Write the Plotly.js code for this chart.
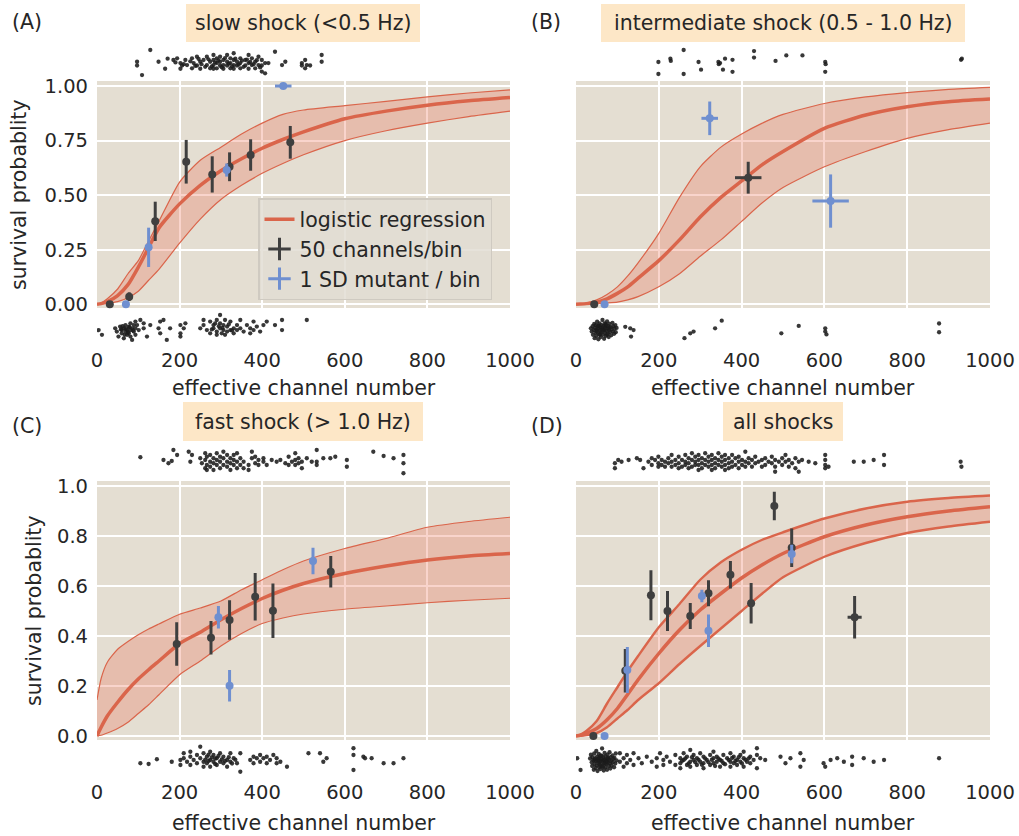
<!DOCTYPE html>
<html>
<head>
<meta charset="utf-8">
<script src="https://cdn.plot.ly/plotly-3.0.1.min.js"></script>
<style>html,body{margin:0;padding:0;background:#fff}#chart{width:1019px;height:836px}</style>
</head>
<body>
<div id="chart"></div>
<script>
// ---------- data ----------
const panelTitles = ["slow shock (<0.5 Hz)", "intermediate shock (0.5 - 1.0 Hz)", "fast shock (> 1.0 Hz)", "all shocks"];
const panelLabels = ["(A)", "(B)", "(C)", "(D)"];
const xTicks = [0, 200, 400, 600, 800, 1000];
const yTicksTop = [0, 0.25, 0.5, 0.75, 1.0];
const yTicksBottom = [0, 0.2, 0.4, 0.6, 0.8, 1.0];

// logistic regression fit
const curveX = [0, 10, 25, 50, 75, 100, 125, 150, 200, 250, 300, 350, 400, 450, 500, 600, 700, 800, 900, 1000];
const aMid = [0, 0.003, 0.012, 0.04, 0.09, 0.17, 0.26, 0.35, 0.46, 0.545, 0.612, 0.667, 0.715, 0.755, 0.79, 0.85, 0.885, 0.912, 0.932, 0.947];
const aLo  = [0, 0.001, 0.004, 0.012, 0.03, 0.06, 0.11, 0.16, 0.28, 0.39, 0.48, 0.545, 0.6, 0.645, 0.685, 0.75, 0.795, 0.83, 0.86, 0.885];
const aHi  = [0, 0.006, 0.025, 0.07, 0.14, 0.2, 0.29, 0.38, 0.56, 0.66, 0.72, 0.78, 0.83, 0.87, 0.89, 0.91, 0.93, 0.95, 0.968, 0.982];
const bMid = [0, 0.001, 0.003, 0.01, 0.025, 0.05, 0.08, 0.12, 0.2, 0.295, 0.4, 0.49, 0.565, 0.64, 0.7, 0.806, 0.867, 0.905, 0.928, 0.94];
const bLo  = [0, 0, 0.001, 0.003, 0.006, 0.01, 0.02, 0.035, 0.08, 0.14, 0.22, 0.295, 0.38, 0.465, 0.535, 0.63, 0.7, 0.76, 0.8, 0.83];
const bHi  = [0, 0.002, 0.006, 0.02, 0.045, 0.08, 0.13, 0.19, 0.325, 0.49, 0.63, 0.72, 0.78, 0.83, 0.87, 0.92, 0.95, 0.97, 0.985, 0.994];
const cMid = [0, 0.035, 0.08, 0.135, 0.185, 0.228, 0.265, 0.3, 0.37, 0.415, 0.465, 0.51, 0.55, 0.583, 0.61, 0.65, 0.68, 0.704, 0.72, 0.73];
const cLo  = [0, 0.003, 0.012, 0.03, 0.055, 0.09, 0.125, 0.165, 0.245, 0.3, 0.36, 0.41, 0.45, 0.472, 0.488, 0.507, 0.52, 0.533, 0.543, 0.551];
const cHi  = [0.144, 0.23, 0.295, 0.347, 0.378, 0.405, 0.428, 0.448, 0.487, 0.512, 0.54, 0.585, 0.625, 0.665, 0.7, 0.75, 0.79, 0.835, 0.858, 0.875];
const dMid = [0, 0.003, 0.01, 0.03, 0.065, 0.11, 0.167, 0.225, 0.33, 0.424, 0.504, 0.57, 0.632, 0.685, 0.73, 0.797, 0.844, 0.877, 0.9, 0.917];
const dLo  = [0, 0.001, 0.004, 0.012, 0.035, 0.07, 0.105, 0.144, 0.211, 0.288, 0.36, 0.43, 0.5, 0.57, 0.635, 0.717, 0.772, 0.812, 0.838, 0.857];
const dHi  = [0, 0.005, 0.02, 0.06, 0.13, 0.195, 0.26, 0.32, 0.435, 0.528, 0.625, 0.695, 0.745, 0.785, 0.815, 0.87, 0.91, 0.937, 0.952, 0.962];

// binned survival, 50 channels / bin
const aBinX = [31, 78, 141, 216, 279, 321, 372, 468];
const aBinY = [0.0, 0.035, 0.38, 0.653, 0.595, 0.63, 0.684, 0.742];
const aBinE = [0, 0.02, 0.09, 0.1, 0.083, 0.066, 0.072, 0.075];
const bBinX = [44, 416];
const bBinY = [0.0, 0.58];
const bBinE = [0, 0.073];
const bBinXE = [0, 32];
const cBinX = [193, 276, 321, 383, 426, 566];
const cBinY = [0.368, 0.393, 0.464, 0.557, 0.501, 0.657];
const cBinE = [0.087, 0.067, 0.079, 0.095, 0.109, 0.063];
const dBinX = [42, 119, 181, 221, 276, 320, 373, 423, 479, 521, 673];
const dBinY = [0.0, 0.261, 0.563, 0.5, 0.48, 0.571, 0.645, 0.531, 0.92, 0.753, 0.475];
const dBinE = [0, 0.087, 0.1, 0.08, 0.052, 0.052, 0.055, 0.081, 0.057, 0.077, 0.085];
const dBinXE = [0, 0, 0, 0, 0, 0, 0, 0, 0, 0, 17];

// 1 SD mutant / bin
const aMutX = [70, 125, 314, 451];
const aMutY = [0.0, 0.261, 0.615, 1.0];
const aMutE = [0, 0.09, 0.03, 0];
const aMutXE = [0, 0, 0, 20];
const bMutX = [69, 323, 615];
const bMutY = [0.0, 0.852, 0.473];
const bMutE = [0, 0.077, 0.122];
const bMutXE = [0, 20, 44];
const cMutX = [294, 321, 523];
const cMutY = [0.475, 0.201, 0.70];
const cMutE = [0.045, 0.063, 0.053];
const dMutX = [69, 124, 304, 320, 521];
const dMutY = [0.0, 0.264, 0.56, 0.421, 0.728];
const dMutE = [0, 0.092, 0.025, 0.065, 0.037];

// individual channels: survivors (top strip) and non-survivors (bottom strip), jittered
const aTop = [[97,1.111],[97,1.094],[109,1.05],[129,1.165],[149,1.111],[165,1.079],[171,1.125],[185,1.119],[190,1.108],[194,1.127],[202,1.105],[202,1.079],[206,1.094],[210,1.1],[214,1.119],[218,1.096],[226,1.113],[230,1.127],[230,1.081],[234,1.105],[238,1.092],[242,1.134],[242,1.094],[246,1.124],[250,1.111],[250,1.079],[253,1.1],[258,1.119],[262,1.088],[266,1.134],[266,1.096],[270,1.122],[274,1.111],[274,1.081],[278,1.09],[282,1.142],[282,1.119],[282,1.096],[282,1.079],[286,1.108],[290,1.127],[290,1.105],[290,1.081],[294,1.117],[298,1.134],[298,1.111],[298,1.094],[302,1.086],[306,1.119],[306,1.096],[306,1.079],[310,1.128],[315,1.142],[315,1.111],[315,1.094],[319,1.102],[323,1.127],[323,1.105],[323,1.081],[327,1.09],[331,1.15],[331,1.119],[331,1.096],[331,1.079],[335,1.125],[339,1.111],[339,1.094],[343,1.099],[347,1.127],[347,1.105],[347,1.081],[351,1.116],[355,1.088],[359,1.119],[359,1.094],[363,1.121],[367,1.142],[367,1.105],[367,1.079],[371,1.11],[375,1.127],[375,1.096],[379,1.1],[383,1.111],[383,1.081],[387,1.118],[391,1.134],[391,1.096],[395,1.085],[399,1.119],[399,1.094],[399,1.066],[407,1.105],[407,1.058],[415,1.105],[431,1.157],[448,1.096],[456,1.111],[496,1.105],[496,1.094],[504,1.119],[504,1.081],[508,1.096],[516,1.094],[544,1.142],[544,1.111]];
const aBot = [[4,-0.118],[12,-0.14],[44,-0.11],[48,-0.125],[52,-0.148],[56,-0.102],[58,-0.115],[60,-0.118],[60,-0.133],[62,-0.1],[65,-0.11],[65,-0.156],[67,-0.14],[69,-0.095],[69,-0.125],[70,-0.112],[73,-0.118],[73,-0.14],[75,-0.128],[77,-0.102],[77,-0.133],[79,-0.105],[81,-0.087],[81,-0.118],[81,-0.148],[85,-0.11],[85,-0.163],[87,-0.12],[89,-0.095],[89,-0.125],[93,-0.079],[93,-0.11],[93,-0.14],[97,-0.095],[101,-0.118],[105,-0.072],[113,-0.087],[113,-0.11],[121,-0.148],[129,-0.095],[149,-0.11],[153,-0.079],[153,-0.133],[161,-0.072],[169,-0.163],[177,-0.11],[202,-0.095],[202,-0.133],[202,-0.148],[210,-0.11],[214,-0.087],[250,-0.11],[258,-0.072],[258,-0.095],[266,-0.118],[274,-0.079],[274,-0.133],[278,-0.115],[282,-0.095],[282,-0.11],[286,-0.088],[290,-0.072],[290,-0.125],[290,-0.14],[295,-0.1],[298,-0.049],[298,-0.087],[298,-0.11],[302,-0.133],[304,-0.108],[306,-0.095],[306,-0.118],[310,-0.072],[310,-0.14],[315,-0.102],[315,-0.125],[319,-0.092],[323,-0.079],[323,-0.118],[327,-0.12],[331,-0.11],[331,-0.133],[339,-0.095],[339,-0.118],[347,-0.072],[347,-0.11],[355,-0.125],[363,-0.095],[371,-0.11],[371,-0.133],[379,-0.079],[379,-0.118],[387,-0.102],[395,-0.125],[403,-0.095],[411,-0.079],[431,-0.095],[448,-0.072],[448,-0.118],[508,-0.072]];
const bTop = [[199,1.11],[199,1.055],[228,1.125],[229,1.115],[260,1.165],[260,1.055],[296,1.11],[302,1.075],[344,1.11],[345,1.1],[348,1.105],[360,1.125],[355,1.075],[378,1.12],[378,1.065],[430,1.16],[430,1.13],[482,1.115],[508,1.14],[547,1.14],[602,1.11],[603,1.1],[602,1.065],[930,1.12],[932,1.125]];
const bBot = [[36,-0.11],[38,-0.125],[40,-0.1],[41,-0.14],[43,-0.118],[44,-0.09],[45,-0.155],[46,-0.108],[47,-0.13],[48,-0.095],[49,-0.145],[50,-0.115],[50,-0.122],[51,-0.08],[52,-0.128],[53,-0.1],[54,-0.16],[55,-0.112],[55,-0.098],[56,-0.138],[57,-0.088],[58,-0.12],[58,-0.14],[59,-0.105],[60,-0.15],[60,-0.132],[61,-0.095],[62,-0.125],[63,-0.11],[64,-0.072],[65,-0.14],[65,-0.115],[66,-0.1],[67,-0.118],[68,-0.158],[68,-0.12],[69,-0.088],[70,-0.13],[70,-0.102],[71,-0.108],[72,-0.145],[72,-0.09],[73,-0.095],[74,-0.122],[75,-0.078],[75,-0.14],[76,-0.112],[77,-0.135],[78,-0.1],[79,-0.15],[80,-0.118],[80,-0.108],[81,-0.09],[82,-0.128],[84,-0.105],[85,-0.142],[86,-0.115],[88,-0.085],[89,-0.125],[90,-0.1],[92,-0.135],[93,-0.112],[95,-0.095],[96,-0.128],[98,-0.108],[119,-0.103],[131,-0.11],[139,-0.118],[133,-0.148],[262,-0.155],[276,-0.133],[284,-0.125],[336,-0.11],[352,-0.075],[496,-0.133],[538,-0.099],[602,-0.11],[602,-0.125],[605,-0.138],[877,-0.088],[877,-0.128]];
const cTop = [[105,1.115],[161,1.104],[173,1.091],[181,1.1],[185,1.144],[194,1.124],[222,1.137],[226,1.097],[230,1.124],[250,1.111],[254,1.091],[262,1.131],[262,1.104],[262,1.071],[266,1.117],[266,1.084],[266,1.064],[274,1.124],[274,1.097],[274,1.077],[282,1.111],[282,1.091],[282,1.064],[290,1.131],[290,1.104],[290,1.084],[298,1.117],[298,1.097],[298,1.071],[306,1.137],[306,1.111],[306,1.084],[315,1.124],[315,1.097],[315,1.077],[323,1.111],[323,1.091],[323,1.064],[331,1.124],[331,1.104],[331,1.084],[339,1.131],[339,1.097],[339,1.071],[347,1.111],[347,1.084],[355,1.097],[355,1.071],[367,1.084],[367,1.064],[375,1.137],[375,1.111],[383,1.117],[383,1.091],[391,1.104],[391,1.084],[403,1.111],[403,1.097],[411,1.084],[423,1.104],[435,1.097],[444,1.104],[456,1.091],[464,1.117],[464,1.084],[472,1.097],[480,1.131],[480,1.104],[480,1.084],[488,1.111],[488,1.091],[496,1.097],[496,1.071],[508,1.111],[520,1.097],[532,1.144],[532,1.097],[532,1.084],[548,1.111],[565,1.111],[577,1.117],[605,1.104],[605,1.077],[669,1.137],[694,1.12],[718,1.111],[742,1.124],[742,1.091],[742,1.051]];
const cBot = [[105,-0.109],[125,-0.112],[145,-0.093],[181,-0.103],[202,-0.096],[202,-0.116],[210,-0.069],[210,-0.089],[218,-0.103],[226,-0.063],[226,-0.083],[226,-0.116],[234,-0.096],[242,-0.076],[242,-0.109],[250,-0.089],[250,-0.043],[258,-0.069],[258,-0.103],[258,-0.123],[262,-0.095],[266,-0.083],[266,-0.109],[270,-0.1],[270,-0.075],[274,-0.063],[274,-0.096],[274,-0.123],[278,-0.086],[282,-0.076],[282,-0.103],[286,-0.112],[286,-0.09],[290,-0.089],[290,-0.116],[294,-0.08],[298,-0.069],[298,-0.103],[302,-0.094],[306,-0.083],[306,-0.109],[310,-0.1],[315,-0.096],[315,-0.123],[319,-0.085],[323,-0.069],[323,-0.103],[327,-0.11],[331,-0.089],[335,-0.095],[339,-0.109],[347,-0.069],[347,-0.143],[371,-0.096],[379,-0.083],[379,-0.109],[387,-0.089],[395,-0.076],[395,-0.103],[403,-0.089],[411,-0.083],[411,-0.109],[419,-0.096],[427,-0.076],[435,-0.089],[435,-0.109],[444,-0.103],[460,-0.123],[512,-0.069],[540,-0.069],[548,-0.103],[556,-0.089],[621,-0.049],[621,-0.076],[621,-0.136],[645,-0.083],[649,-0.089],[665,-0.089],[694,-0.109],[718,-0.109],[742,-0.089]];
const dTop = [[94,1.091],[94,1.071],[102,1.104],[110,1.097],[127,1.104],[147,1.111],[155,1.104],[163,1.071],[175,1.097],[183,1.111],[183,1.084],[191,1.104],[199,1.117],[199,1.091],[199,1.077],[207,1.104],[207,1.084],[215,1.097],[215,1.077],[223,1.111],[223,1.091],[231,1.124],[231,1.097],[231,1.077],[240,1.104],[240,1.084],[248,1.117],[248,1.091],[248,1.071],[256,1.104],[256,1.077],[264,1.124],[264,1.097],[264,1.084],[272,1.111],[272,1.091],[272,1.071],[280,1.131],[280,1.104],[280,1.077],[288,1.117],[288,1.097],[288,1.084],[296,1.124],[296,1.104],[296,1.084],[296,1.064],[304,1.111],[304,1.091],[304,1.071],[312,1.131],[312,1.104],[312,1.084],[320,1.117],[320,1.097],[320,1.077],[328,1.124],[328,1.104],[328,1.084],[328,1.064],[336,1.111],[336,1.091],[336,1.071],[344,1.131],[344,1.104],[344,1.084],[352,1.117],[352,1.097],[352,1.077],[360,1.124],[360,1.104],[360,1.084],[360,1.064],[369,1.111],[369,1.091],[369,1.071],[377,1.124],[377,1.097],[377,1.077],[385,1.111],[385,1.084],[393,1.117],[393,1.097],[393,1.071],[401,1.104],[401,1.084],[409,1.137],[409,1.097],[409,1.077],[417,1.111],[417,1.091],[425,1.104],[425,1.077],[433,1.117],[433,1.091],[441,1.097],[449,1.104],[449,1.077],[457,1.111],[457,1.084],[465,1.097],[473,1.117],[473,1.091],[481,1.104],[481,1.077],[481,1.057],[490,1.097],[498,1.111],[498,1.084],[506,1.124],[506,1.097],[514,1.104],[514,1.077],[522,1.091],[530,1.111],[530,1.071],[538,1.097],[538,1.057],[546,1.104],[562,1.097],[578,1.091],[602,1.124],[602,1.104],[602,1.084],[602,1.071],[610,1.077],[671,1.097],[695,1.097],[719,1.104],[744,1.124],[744,1.084],[929,1.097],[931,1.077]];
const dBot = [[3,-0.089],[11,-0.136],[34,-0.09],[36,-0.075],[38,-0.105],[39,-0.12],[40,-0.085],[42,-0.098],[43,-0.135],[44,-0.07],[45,-0.112],[45,-0.095],[46,-0.09],[47,-0.128],[48,-0.1],[49,-0.06],[50,-0.118],[51,-0.083],[52,-0.14],[52,-0.1],[53,-0.095],[54,-0.108],[55,-0.072],[55,-0.09],[56,-0.125],[57,-0.088],[57,-0.115],[58,-0.102],[59,-0.132],[60,-0.078],[60,-0.1],[61,-0.115],[62,-0.093],[62,-0.08],[63,-0.05],[64,-0.12],[65,-0.1],[65,-0.125],[66,-0.085],[67,-0.138],[67,-0.095],[68,-0.108],[69,-0.068],[70,-0.095],[70,-0.11],[71,-0.125],[72,-0.082],[72,-0.105],[73,-0.112],[74,-0.098],[75,-0.135],[75,-0.1],[76,-0.075],[77,-0.105],[77,-0.09],[78,-0.088],[79,-0.12],[80,-0.095],[81,-0.065],[82,-0.11],[83,-0.13],[84,-0.085],[85,-0.1],[86,-0.118],[88,-0.078],[89,-0.105],[90,-0.092],[92,-0.125],[93,-0.088],[95,-0.11],[96,-0.07],[98,-0.098],[106,-0.069],[106,-0.103],[115,-0.089],[115,-0.123],[123,-0.076],[123,-0.109],[131,-0.096],[139,-0.069],[139,-0.116],[151,-0.089],[159,-0.109],[171,-0.083],[183,-0.103],[195,-0.089],[195,-0.123],[203,-0.069],[211,-0.096],[211,-0.116],[219,-0.083],[227,-0.103],[240,-0.076],[240,-0.116],[252,-0.089],[252,-0.109],[252,-0.129],[256,-0.1],[260,-0.069],[260,-0.096],[264,-0.09],[268,-0.083],[268,-0.116],[272,-0.11],[276,-0.056],[276,-0.103],[276,-0.123],[280,-0.085],[284,-0.076],[284,-0.096],[288,-0.105],[292,-0.089],[292,-0.116],[296,-0.095],[300,-0.069],[300,-0.103],[304,-0.115],[308,-0.083],[308,-0.109],[308,-0.129],[312,-0.09],[316,-0.096],[320,-0.105],[324,-0.076],[324,-0.116],[328,-0.095],[332,-0.063],[332,-0.089],[332,-0.109],[336,-0.12],[340,-0.083],[340,-0.103],[344,-0.09],[348,-0.096],[348,-0.123],[352,-0.1],[356,-0.076],[356,-0.109],[360,-0.113],[365,-0.089],[369,-0.096],[373,-0.069],[373,-0.103],[373,-0.123],[377,-0.088],[381,-0.083],[381,-0.109],[385,-0.1],[389,-0.096],[389,-0.116],[393,-0.085],[397,-0.076],[397,-0.103],[401,-0.11],[405,-0.063],[405,-0.089],[405,-0.123],[409,-0.095],[413,-0.103],[417,-0.09],[421,-0.083],[421,-0.109],[429,-0.096],[437,-0.049],[437,-0.076],[437,-0.129],[445,-0.089],[457,-0.096],[494,-0.083],[506,-0.109],[518,-0.089],[542,-0.069],[542,-0.123],[550,-0.096],[598,-0.109],[602,-0.123],[615,-0.096],[631,-0.089],[647,-0.103],[667,-0.083],[667,-0.116],[695,-0.089],[719,-0.103],[744,-0.096],[877,-0.089]];

// ---------- styling ----------
const FONT = 'DejaVu Sans';
const TXT = '#262626';
const RED = '#da654b';
const BAND = 'rgba(236,120,95,0.32)';
const DARK = '#3f3f3f';
const BLUE = '#6f8fd0';
const RUG = '#1c1c1c';
const PANEL_BG = '#e4ded2';
const TFS = 20.5;   // text font size
const KFS = 19.5;   // tick font size

const traces = [];
function addPanel(xa, ya, lo, hi, mid, edgeW) {
  traces.push({x: curveX, y: lo, xaxis: xa, yaxis: ya, mode: 'lines', line: {color: RED, width: edgeW, shape: 'spline', smoothing: 0.6}, showlegend: false, hoverinfo: 'skip'});
  traces.push({x: curveX, y: hi, xaxis: xa, yaxis: ya, mode: 'lines', fill: 'tonexty', fillcolor: BAND, line: {color: RED, width: edgeW, shape: 'spline', smoothing: 0.6}, showlegend: false, hoverinfo: 'skip'});
  traces.push({x: curveX, y: mid, xaxis: xa, yaxis: ya, mode: 'lines', line: {color: RED, width: 3.5, shape: 'spline', smoothing: 0.6}, showlegend: false});
}
function addPoints(xa, ya, x, y, e, xe, color) {
  const t = {x: x, y: y, xaxis: xa, yaxis: ya, mode: 'markers', marker: {color: color, size: 8},
    error_y: {type: 'data', array: e, color: color, thickness: 3, width: 0}, showlegend: false, cliponaxis: false};
  if (xe) t.error_x = {type: 'data', array: xe, color: color, thickness: 3, width: 0};
  traces.push(t);
}
function addRug(xa, ya, pts) {
  traces.push({x: pts.map(p => p[0]), y: pts.map(p => p[1]), xaxis: xa, yaxis: ya, mode: 'markers',
    marker: {color: RUG, size: 4.3, opacity: 0.88}, showlegend: false, hoverinfo: 'skip'});
}

addPanel('x', 'y', aLo, aHi, aMid, 1.2);
addPanel('x2', 'y2', bLo, bHi, bMid, 1.2);
addPanel('x3', 'y3', cLo, cHi, cMid, 1.2);
addPanel('x4', 'y4', dLo, dHi, dMid, 2.4);

addPoints('x', 'y', aBinX, aBinY, aBinE, null, DARK);
addPoints('x', 'y', aMutX, aMutY, aMutE, aMutXE, BLUE);
addPoints('x2', 'y2', bBinX, bBinY, bBinE, bBinXE, DARK);
addPoints('x2', 'y2', bMutX, bMutY, bMutE, bMutXE, BLUE);
addPoints('x3', 'y3', cBinX, cBinY, cBinE, null, DARK);
addPoints('x3', 'y3', cMutX, cMutY, cMutE, null, BLUE);
addPoints('x4', 'y4', dBinX, dBinY, dBinE, dBinXE, DARK);
addPoints('x4', 'y4', dMutX, dMutY, dMutE, null, BLUE);

// rug strips live on hidden companion axes whose domain reaches beyond the panel
addRug('x5', 'y5', aTop); addRug('x5', 'y5', aBot);
addRug('x6', 'y6', bTop); addRug('x6', 'y6', bBot);
addRug('x7', 'y7', cTop); addRug('x7', 'y7', cBot);
addRug('x8', 'y8', dTop); addRug('x8', 'y8', dBot);

// legend entries (panel A)
traces.push({x: [null], y: [null], xaxis: 'x', yaxis: 'y', mode: 'lines', name: 'logistic regression', line: {color: RED, width: 3.5}, showlegend: true});
traces.push({x: [null], y: [null], xaxis: 'x', yaxis: 'y', mode: 'markers', name: '50 channels/bin', marker: {symbol: 'cross-thin', size: 16, line: {width: 3, color: DARK}, color: DARK}, showlegend: true});
traces.push({x: [null], y: [null], xaxis: 'x', yaxis: 'y', mode: 'markers', name: '1 SD mutant / bin', marker: {symbol: 'cross-thin', size: 16, line: {width: 3, color: BLUE}, color: BLUE}, showlegend: true});

// ---------- layout ----------
const W = 1019, H = 836;
const px = v => v / W;
const py = v => 1 - v / H;

const xCommon = {range: [0, 1000], tickvals: xTicks, showgrid: true, gridcolor: '#ffffff', gridwidth: 2,
  zeroline: false, showline: false, ticks: '', ticklabelstandoff: 38, tickfont: {family: FONT, size: KFS, color: TXT}, fixedrange: true};
const yCommon = {showgrid: true, gridcolor: '#ffffff', gridwidth: 2, zeroline: false, showline: false, ticks: '',
  ticklabelstandoff: 8, tickfont: {family: FONT, size: KFS, color: TXT}, fixedrange: true};
const hidden = {visible: false, fixedrange: true};

const colL = [px(97), px(510)], colR = [px(576), px(990)];
const rowT = [py(308), py(81)], rowB = [py(740), py(481)];
// companion (rug) rows: same data-to-pixel mapping, taller domain
const rugRowT = [py(350), py(44)], rugRowB = [py(795), py(443)];
const rugRangeT = [(304.3 - 350) / 218.3, (304.3 - 44) / 218.3];
const rugRangeB = [(736 - 795) / 250, (736 - 443) / 250];

const layout = {
  width: W, height: H,
  margin: {l: 0, r: 0, t: 0, b: 0, pad: 0},
  paper_bgcolor: '#ffffff', plot_bgcolor: 'rgba(0,0,0,0)',
  font: {family: FONT, size: TFS, color: TXT},
  xaxis: Object.assign({}, xCommon, {domain: colL, anchor: 'y'}),
  yaxis: Object.assign({}, yCommon, {domain: rowT, anchor: 'x', range: [-0.017, 1.023], tickvals: yTicksTop, tickformat: '.2f'}),
  xaxis2: Object.assign({}, xCommon, {domain: colR, anchor: 'y2'}),
  yaxis2: Object.assign({}, yCommon, {domain: rowT, anchor: 'x2', range: [-0.017, 1.023], tickvals: yTicksTop, showticklabels: false}),
  xaxis3: Object.assign({}, xCommon, {domain: colL, anchor: 'y3'}),
  yaxis3: Object.assign({}, yCommon, {domain: rowB, anchor: 'x3', range: [-0.016, 1.02], tickvals: yTicksBottom, tickformat: '.1f'}),
  xaxis4: Object.assign({}, xCommon, {domain: colR, anchor: 'y4'}),
  yaxis4: Object.assign({}, yCommon, {domain: rowB, anchor: 'x4', range: [-0.016, 1.02], tickvals: yTicksBottom, showticklabels: false}),
  xaxis5: Object.assign({}, hidden, {domain: colL, range: [0, 1000], anchor: 'y5'}),
  yaxis5: Object.assign({}, hidden, {domain: rugRowT, range: rugRangeT, anchor: 'x5'}),
  xaxis6: Object.assign({}, hidden, {domain: colR, range: [0, 1000], anchor: 'y6'}),
  yaxis6: Object.assign({}, hidden, {domain: rugRowT, range: rugRangeT, anchor: 'x6'}),
  xaxis7: Object.assign({}, hidden, {domain: colL, range: [0, 1000], anchor: 'y7'}),
  yaxis7: Object.assign({}, hidden, {domain: rugRowB, range: rugRangeB, anchor: 'x7'}),
  xaxis8: Object.assign({}, hidden, {domain: colR, range: [0, 1000], anchor: 'y8'}),
  yaxis8: Object.assign({}, hidden, {domain: rugRowB, range: rugRangeB, anchor: 'x8'}),
  showlegend: true,
  legend: {x: px(258), y: py(198), xanchor: 'left', yanchor: 'top', traceorder: 'normal', bgcolor: 'rgba(226,221,212,0.85)',
    bordercolor: '#cfcac1', borderwidth: 1.5, font: {family: FONT, size: TFS, color: TXT}, tracegroupgap: 0},
  shapes: [
    // panel backgrounds
    {type: 'rect', xref: 'paper', yref: 'paper', layer: 'below', x0: colL[0], x1: colL[1], y0: rowT[0], y1: rowT[1], fillcolor: PANEL_BG, line: {width: 0}},
    {type: 'rect', xref: 'paper', yref: 'paper', layer: 'below', x0: colR[0], x1: colR[1], y0: rowT[0], y1: rowT[1], fillcolor: PANEL_BG, line: {width: 0}},
    {type: 'rect', xref: 'paper', yref: 'paper', layer: 'below', x0: colL[0], x1: colL[1], y0: rowB[0], y1: rowB[1], fillcolor: PANEL_BG, line: {width: 0}},
    {type: 'rect', xref: 'paper', yref: 'paper', layer: 'below', x0: colR[0], x1: colR[1], y0: rowB[0], y1: rowB[1], fillcolor: PANEL_BG, line: {width: 0}},
    // title boxes
    {type: 'rect', xref: 'paper', yref: 'paper', x0: px(186), x1: px(420), y0: py(42), y1: py(4), fillcolor: '#fde7c7', line: {width: 0}},
    {type: 'rect', xref: 'paper', yref: 'paper', x0: px(601), x1: px(965), y0: py(42), y1: py(4), fillcolor: '#fde7c7', line: {width: 0}},
    {type: 'rect', xref: 'paper', yref: 'paper', x0: px(183), x1: px(423), y0: py(441), y1: py(402), fillcolor: '#fde7c7', line: {width: 0}},
    {type: 'rect', xref: 'paper', yref: 'paper', x0: px(723), x1: px(843), y0: py(441), y1: py(402), fillcolor: '#fde7c7', line: {width: 0}}
  ],
  annotations: []
};

const ann = (text, x, y, opts) => Object.assign({text: text, x: x, y: y, xref: 'paper', yref: 'paper', showarrow: false,
  xanchor: 'center', yanchor: 'middle', font: {family: FONT, size: TFS, color: TXT}}, opts || {});

// panel titles
layout.annotations.push(ann(panelTitles[0], px(303), py(23)));
layout.annotations.push(ann(panelTitles[1], px(783), py(23)));
layout.annotations.push(ann(panelTitles[2], px(303), py(421.5)));
layout.annotations.push(ann(panelTitles[3], px(783), py(421.5)));
// panel labels
layout.annotations.push(ann(panelLabels[0], px(10), py(22.5), {xanchor: 'left'}));
layout.annotations.push(ann(panelLabels[1], px(529), py(22.5), {xanchor: 'left'}));
layout.annotations.push(ann(panelLabels[2], px(10), py(425.5), {xanchor: 'left'}));
layout.annotations.push(ann(panelLabels[3], px(529), py(425.5), {xanchor: 'left'}));
// axis titles
const xTitle = 'effective channel number', yTitle = 'survival probablity';
layout.annotations.push(ann(xTitle, px(303.5), py(388)));
layout.annotations.push(ann(xTitle, px(783), py(388)));
layout.annotations.push(ann(xTitle, px(303.5), py(823)));
layout.annotations.push(ann(xTitle, px(783), py(823)));
layout.annotations.push(ann(yTitle, px(19.5), py(194.5), {textangle: -90}));
layout.annotations.push(ann(yTitle, px(33.5), py(610.5), {textangle: -90}));

Plotly.newPlot('chart', traces, layout, {displayModeBar: false, staticPlot: true});
</script>
</body>
</html>
